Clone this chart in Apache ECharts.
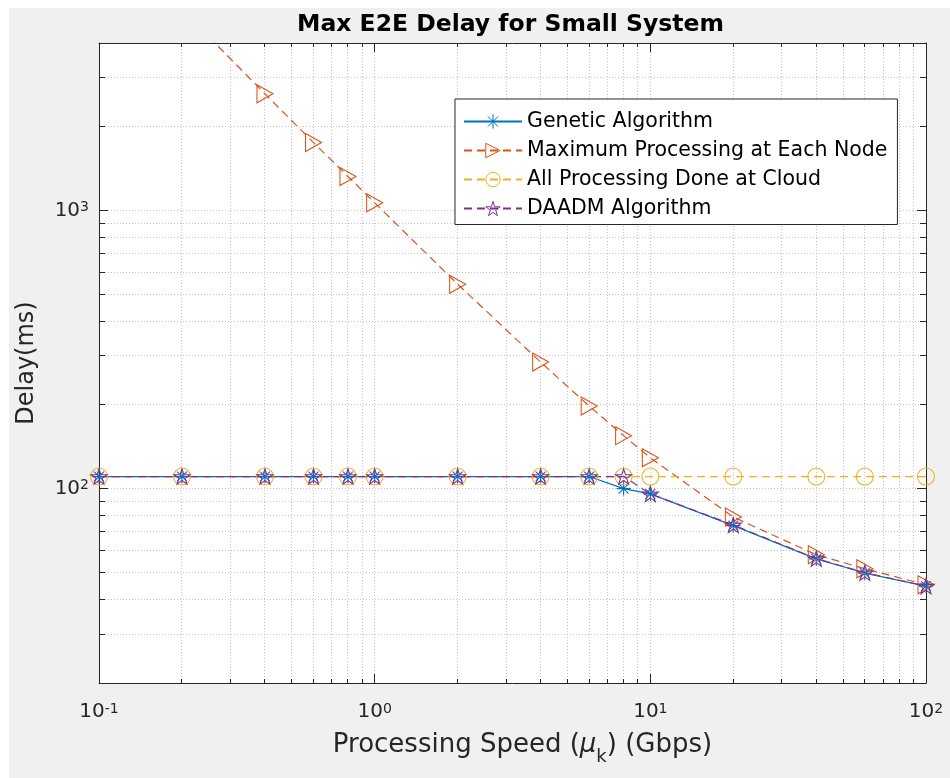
<!DOCTYPE html>
<html><head><meta charset="utf-8">
<script src="https://cdn.jsdelivr.net/npm/echarts@6/dist/echarts.min.js"></script>
<style>html,body{margin:0;padding:0;background:#fff}#chart{width:950px;height:778px}</style>
</head><body><div id="chart"></div>
<script>
// ---- data ----
const xValues = [0.1, 0.2, 0.4, 0.6, 0.8, 1, 2, 4, 6, 8, 10, 20, 40, 60, 100];
const geneticDelay = [110.5, 110.5, 110.5, 110.5, 110.5, 110.5, 110.5, 110.5, 110.5, 100, 95.7, 73.6, 55.9, 49.7, 44.6];
const maxProcessingDelay = [10500, 5280, 2626, 1754, 1325, 1065, 543, 285, 198, 155, 129, 79, 57.8, 51.5, 45.1];
const cloudDelay = [110.5, 110.5, 110.5, 110.5, 110.5, 110.5, 110.5, 110.5, 110.5, 110.5, 110.5, 110.5, 110.5, 110.5, 110.5];
const daadmDelay = [110.5, 110.5, 110.5, 110.5, 110.5, 110.5, 110.5, 110.5, 110.5, 110.5, 95.7, 74, 56, 49.8, 44.6];
const seriesNames = ['Genetic Algorithm', 'Maximum Processing at Each Node', 'All Processing Done at Cloud', 'DAADM Algorithm'];
const xMinorTicks = [0.2, 0.3, 0.4, 0.5, 0.6, 0.7, 0.8, 0.9, 2, 3, 4, 5, 6, 7, 8, 9, 20, 30, 40, 50, 60, 70, 80, 90];
const yMinorTicks = [30, 40, 50, 60, 70, 80, 90, 200, 300, 400, 500, 600, 700, 800, 900, 2000, 3000];
const xRange = [0.1, 100];
const yRange = [20, 4000];
const titleText = 'Max E2E Delay for Small System';
const yLabel = 'Delay(ms)';

// ---- style ----
const FONT = 'DejaVu Sans';
const AXIS_COLOR = '#262626';
const GRID_COLOR = '#c4c4c4';
const COLORS = ['#0072BD', '#D95319', '#EDB120', '#7E2F8E'];
const ASTERISK = 'path://M0,-1L0,1M-1,0L1,0M-0.707,-0.707L0.707,0.707M-0.707,0.707L0.707,-0.707';
const TRI_RIGHT = 'path://M0,0L1,0.5L0,1Z';
const STAR = 'path://M0,-1L0.2245,-0.309L0.951,-0.309L0.363,0.118L0.588,0.809L0,0.382L-0.588,0.809L-0.363,0.118L-0.951,-0.309L-0.2245,-0.309Z';

function pairs(ys) { return xValues.map((x, i) => [x, ys[i]]); }
function powLabel(v) {
  const e = Math.log10(v);
  const r = Math.round(e);
  if (Math.abs(e - r) > 1e-6) return '';
  return '{b|10}{s|' + r + '}';
}
const tickRich = {
  b: { fontFamily: FONT, fontSize: 20, color: AXIS_COLOR, lineHeight: 20, verticalAlign: 'bottom', padding: [8, 0, 0, 0] },
  s: { fontFamily: FONT, fontSize: 14, color: AXIS_COLOR, lineHeight: 14, verticalAlign: 'top' }
};
function crisp(v) { return Math.round(v - 0.5) + 0.5; }

function minorX(params, api) {
  const x = api.value(0);
  const b = api.coord([x, yRange[0]]);
  const t = api.coord([x, yRange[1]]);
  const px = crisp(b[0]);
  return { type: 'group', children: [
    { type: 'line', shape: { x1: px, y1: b[1], x2: px, y2: t[1] }, style: { stroke: GRID_COLOR, lineWidth: 1, lineDash: [1, 2] } },
    { type: 'line', shape: { x1: px, y1: b[1], x2: px, y2: b[1] - 4 }, style: { stroke: AXIS_COLOR, lineWidth: 1 } },
    { type: 'line', shape: { x1: px, y1: t[1], x2: px, y2: t[1] + 4 }, style: { stroke: AXIS_COLOR, lineWidth: 1 } }
  ] };
}
function minorY(params, api) {
  const y = api.value(1);
  const l = api.coord([xRange[0], y]);
  const r = api.coord([xRange[1], y]);
  const py = crisp(l[1]);
  return { type: 'group', children: [
    { type: 'line', shape: { x1: l[0], y1: py, x2: r[0], y2: py }, style: { stroke: GRID_COLOR, lineWidth: 1, lineDash: [1, 2] } },
    { type: 'line', shape: { x1: l[0], y1: py, x2: l[0] + 6, y2: py }, style: { stroke: AXIS_COLOR, lineWidth: 1 } },
    { type: 'line', shape: { x1: r[0], y1: py, x2: r[0] - 6, y2: py }, style: { stroke: AXIS_COLOR, lineWidth: 1 } }
  ] };
}

function mkLine(idx, data, symbol, size, dashed) {
  return {
    name: seriesNames[idx], type: 'line', data: pairs(data),
    xAxisIndex: 0, yAxisIndex: 0, z: 5,
    symbol: symbol, symbolSize: size, symbolKeepAspect: true,
    lineStyle: { color: COLORS[idx], width: 1.2, type: dashed ? [8, 5] : 'solid' },
    itemStyle: { color: 'rgba(0,0,0,0)', borderColor: COLORS[idx], borderWidth: 1.1 },
    emphasis: { disabled: true }, clip: true
  };
}

const axisLineStyle = { show: true, lineStyle: { color: AXIS_COLOR, width: 1 } };
const chart = echarts.init(document.getElementById('chart'));
chart.setOption({
  animation: false,
  backgroundColor: '#fff',
  graphic: [{ type: 'rect', left: 9, top: 8, shape: { width: 941, height: 770 }, style: { fill: '#F0F0F0' }, z: -10, silent: true }],
  title: { text: titleText, left: 297, top: 13, padding: 0,
    textStyle: { fontFamily: FONT, fontWeight: 'bold', fontSize: 23.5, color: '#000' } },
  grid: { left: 99, right: 24, top: 43, bottom: 95, show: true, backgroundColor: '#fff', borderWidth: 0, containLabel: false, outerBoundsMode: 'none' },
  legend: {
    data: seriesNames, orient: 'vertical', left: 455, top: 99,
    itemWidth: 58, itemHeight: 18, itemGap: 8,
    padding: [12, 10, 5.5, 8],
    backgroundColor: '#fff', borderColor: AXIS_COLOR, borderWidth: 1, borderRadius: 0,
    itemStyle: { borderWidth: 1 },
    textStyle: { fontFamily: FONT, fontSize: 20.5, color: '#000' },
    selectedMode: false
  },
  xAxis: [{
    type: 'log', logBase: 10, min: xRange[0], max: xRange[1], position: 'bottom',
    axisLine: axisLineStyle,
    axisTick: { show: true, inside: true, length: 9, lineStyle: { color: AXIS_COLOR } },
    axisLabel: { formatter: powLabel, rich: tickRich, margin: 19, showMinLabel: true, showMaxLabel: true, hideOverlap: false },
    splitLine: { show: true, lineStyle: { color: GRID_COLOR, type: [1, 2], width: 1 } },
    minorTick: { show: false }, minorSplitLine: { show: false },
    name: 'Processing Speed ({i|μ}{sub|k}) (Gbps)', nameLocation: 'middle', nameGap: 62, nameMoveOverlap: false,
    nameTextStyle: { fontFamily: FONT, fontSize: 26, color: AXIS_COLOR, lineHeight: 42, verticalAlign: 'middle', padding: [0, 0, 0, 20],
      rich: { i: { fontFamily: FONT, fontStyle: 'italic', fontSize: 26, color: AXIS_COLOR },
              sub: { fontFamily: FONT, fontSize: 18, color: AXIS_COLOR, lineHeight: 42, verticalAlign: 'bottom' } } }
  }, {
    type: 'log', logBase: 10, min: xRange[0], max: xRange[1], position: 'top',
    axisLine: axisLineStyle,
    axisTick: { show: true, inside: true, length: 9, lineStyle: { color: AXIS_COLOR } },
    axisLabel: { show: false }, splitLine: { show: false }
  }],
  yAxis: [{
    type: 'log', logBase: 10, min: yRange[0], max: yRange[1], position: 'left',
    axisLine: axisLineStyle,
    axisTick: { show: true, inside: true, length: 9, lineStyle: { color: AXIS_COLOR } },
    axisLabel: { formatter: powLabel, rich: tickRich, margin: 10, hideOverlap: false },
    splitLine: { show: true, lineStyle: { color: GRID_COLOR, type: [1, 2], width: 1 } },
    name: yLabel, nameLocation: 'middle', nameGap: 60, nameMoveOverlap: false,
    nameTextStyle: { fontFamily: FONT, fontSize: 24, color: AXIS_COLOR }
  }, {
    type: 'log', logBase: 10, min: yRange[0], max: yRange[1], position: 'right',
    axisLine: axisLineStyle,
    axisTick: { show: true, inside: true, length: 9, lineStyle: { color: AXIS_COLOR } },
    axisLabel: { show: false }, splitLine: { show: false }
  }],
  series: [
    { type: 'custom', name: 'xminor', silent: true, z: 1, xAxisIndex: 0, yAxisIndex: 0,
      data: xMinorTicks.map(v => [v, yRange[0]]), renderItem: minorX },
    { type: 'custom', name: 'yminor', silent: true, z: 1, xAxisIndex: 0, yAxisIndex: 0,
      data: yMinorTicks.map(v => [xRange[0], v]), renderItem: minorY },
    mkLine(0, geneticDelay, ASTERISK, 14, false),
    mkLine(1, maxProcessingDelay, TRI_RIGHT, [16, 18], true),
    mkLine(2, cloudDelay, 'circle', 17, true),
    mkLine(3, daadmDelay, STAR, 16, true)
  ]
});
</script></body></html>
